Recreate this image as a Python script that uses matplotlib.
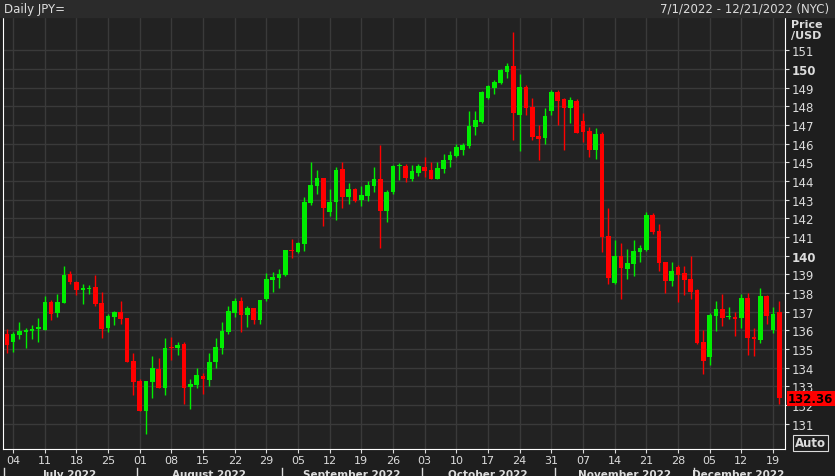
import numpy as np
import pandas as pd
import matplotlib
matplotlib.use('Agg')
import matplotlib.pyplot as plt

# daily USD/JPY candles, Jul 1 - Dec 20 2022
opens = [135.8, 135.4, 135.77, 135.93, 135.98, 136.07, 136.04, 137.5, 136.95, 137.48,
         139.02, 138.61, 138.18, 138.22, 138.32, 137.47, 136.13, 136.73, 136.98, 136.66,
         134.36, 133.29, 131.7, 133.25, 133.93, 132.93, 135.11, 135.06, 135.27, 132.98,
         133.1, 133.57, 133.36, 134.29, 135.08, 135.93, 136.95, 137.58, 136.84, 137.2,
         136.58, 137.66, 138.7, 138.83, 138.97, 140.31, 140.2, 140.63, 142.84, 143.75,
         144.15, 142.36, 142.86, 144.65, 143.15, 143.58, 142.99, 143.22, 143.75, 144.11,
         142.42, 143.43, 144.81, 144.81, 144.11, 144.43, 144.76, 144.59, 144.1, 144.64,
         145.12, 145.34, 145.66, 145.87, 146.91, 147.14, 148.44, 148.98, 149.25, 149.84,
         150.16, 147.53, 149.05, 147.96, 146.41, 146.3, 147.77, 148.78, 148.37, 147.89,
         148.3, 147.19, 146.7, 145.68, 146.52, 141.04, 138.53, 139.96, 139.3, 139.57,
         140.21, 140.3, 142.18, 141.32, 139.68, 138.64, 139.41, 139.07, 138.75, 138.18,
         135.39, 134.59, 136.78, 137.14, 136.71, 136.71, 136.66, 137.71, 135.64, 135.5,
         137.82, 136.0, 136.96]
closes = [135.24, 135.8, 135.98, 136.04, 136.09, 136.18, 137.5, 136.9, 137.5, 138.97,
          138.57, 138.18, 138.27, 138.27, 137.43, 136.09, 136.75, 136.98, 136.63, 134.31,
          133.25, 131.7, 133.29, 134.0, 132.93, 135.06, 135.06, 135.24, 132.93, 133.15,
          133.61, 133.4, 134.29, 135.09, 135.99, 137.04, 137.58, 136.84, 137.2, 136.58,
          137.63, 138.75, 138.88, 139.04, 140.31, 140.25, 140.68, 142.88, 143.79, 144.15,
          142.58, 142.88, 144.59, 143.15, 143.58, 142.95, 143.25, 143.79, 144.11, 142.42,
          143.43, 144.81, 144.84, 144.18, 144.52, 144.81, 144.55, 144.1, 144.68, 145.14,
          145.41, 145.8, 145.94, 146.96, 147.29, 148.78, 149.1, 149.32, 149.94, 150.16,
          147.64, 149.05, 147.91, 146.37, 146.25, 147.48, 148.78, 148.3, 147.91, 148.34,
          146.59, 146.64, 145.68, 146.52, 140.98, 138.82, 139.96, 139.36, 139.6, 140.23,
          140.39, 142.18, 141.25, 139.6, 138.64, 139.2, 138.96, 138.7, 138.07, 135.32,
          134.36, 136.82, 137.14, 136.68, 136.75, 136.62, 137.71, 135.59, 135.55, 137.82,
          136.75, 136.9, 132.36]
highs = [136.07, 135.9, 136.43, 136.11, 136.29, 136.66, 137.82, 137.63, 137.95, 139.47,
         139.18, 138.65, 138.48, 138.43, 138.97, 138.07, 136.86, 137.06, 137.59, 136.66,
         134.79, 133.4, 133.29, 134.65, 134.52, 135.59, 135.66, 135.36, 135.36, 133.4,
         134.0, 133.72, 134.79, 135.58, 136.47, 137.29, 137.74, 137.77, 137.33, 137.22,
         137.63, 139.08, 139.15, 139.29, 140.31, 140.9, 140.72, 143.13, 145.02, 144.59,
         144.15, 143.58, 144.74, 145.02, 143.9, 143.6, 143.74, 143.99, 144.75, 145.95,
         143.52, 144.86, 144.97, 144.9, 144.86, 144.9, 145.3, 145.03, 145.0, 145.44,
         145.62, 145.98, 146.06, 147.77, 147.77, 148.84, 149.14, 149.43, 150.0, 150.32,
         151.99, 149.73, 149.14, 148.43, 147.0, 147.89, 148.89, 148.86, 148.44, 148.48,
         148.4, 147.64, 146.87, 146.84, 146.61, 142.53, 140.85, 140.68, 140.36, 140.84,
         140.59, 142.32, 142.28, 141.7, 139.68, 139.68, 139.5, 139.46, 140.0, 138.22,
         136.03, 136.93, 137.57, 137.96, 137.28, 136.96, 137.96, 138.03, 136.11, 138.25,
         137.9, 137.23, 137.59]
lows = [134.8, 134.86, 135.54, 135.04, 135.54, 135.4, 136.0, 136.54, 136.73, 137.45,
        138.47, 137.91, 137.43, 137.97, 137.32, 135.59, 135.93, 136.29, 136.34, 134.31,
        132.56, 131.7, 130.48, 132.36, 132.9, 132.56, 134.43, 134.7, 132.07, 131.79,
        132.93, 132.61, 133.0, 133.97, 134.72, 135.79, 136.74, 135.9, 136.2, 136.34,
        136.36, 137.59, 138.08, 138.29, 138.93, 139.9, 140.13, 140.27, 142.74, 143.31,
        141.58, 142.11, 141.9, 142.58, 142.77, 142.86, 142.68, 142.95, 143.4, 140.4,
        141.79, 143.29, 144.08, 143.93, 144.02, 144.29, 144.2, 144.1, 144.1, 144.41,
        144.73, 145.27, 145.41, 145.75, 146.46, 147.1, 148.4, 148.66, 149.2, 149.52,
        146.19, 145.62, 147.55, 146.19, 145.12, 145.98, 147.53, 147.02, 145.66, 147.1,
        146.55, 146.07, 145.3, 145.18, 140.21, 138.5, 138.5, 137.68, 138.78, 138.93,
        139.68, 140.25, 141.16, 139.2, 138.03, 138.39, 137.5, 137.89, 137.68, 135.27,
        133.66, 134.14, 135.98, 136.25, 136.6, 135.68, 136.11, 134.71, 134.64, 135.3,
        136.34, 135.86, 132.05]
dates = pd.bdate_range('2022-07-01', periods=len(opens))

week_ticks = ['04', '11', '18', '25', '01', '08', '15', '22', '29', '05', '12', '19', '26',
              '03', '10', '17', '24', '31', '07', '14', '21', '28', '05', '12', '19']
months = ['July 2022', 'August 2022', 'September 2022', 'October 2022',
          'November 2022', 'December 2022']

BG = '#1e1e1e'
PANEL = '#222222'
GRID = '#3a3a3a'
TXT = '#dcdcdc'
UP = '#00ee00'
DN = '#ff0000'

fig = plt.figure(figsize=(8.35, 4.77), dpi=100, facecolor=BG)
ax = fig.add_axes([3 / 835, 27 / 477, 782 / 835, 431 / 477])
ax.set_facecolor(PANEL)

x = np.arange(len(opens))
o = np.array(opens); c = np.array(closes)
colors = [UP if cc >= oo else DN for oo, cc in zip(o, c)]
ax.vlines(x, lows, highs, colors=colors, lw=1, zorder=3)
bottoms = np.minimum(o, c)
heights = np.maximum(np.abs(c - o), 0.06)
ax.bar(x, heights, bottom=bottoms, width=0.72, color=colors, zorder=4)

ax.set_xlim(-0.6, 122.9)
ax.set_ylim(129.65, 152.73)

# weekly grid on Mondays
mondays = [i for i, d in enumerate(dates) if d.weekday() == 0]
ax.set_xticks(mondays)
ax.set_xticklabels(week_ticks[:len(mondays)], color=TXT, fontsize=8)
ax.set_yticks(range(131, 152))
ax.yaxis.tick_right()
ax.set_yticklabels([str(v) for v in range(131, 152)], color=TXT, fontsize=8.5)
for lbl in ax.get_yticklabels():
    if lbl.get_text() in ('140', '150'):
        lbl.set_fontweight('bold')
ax.tick_params(axis='both', colors=TXT, length=3, pad=2, labelcolor=TXT)
ax.tick_params(axis='x', pad=1.5)
ax.grid(True, color=GRID, lw=1)
ax.set_axisbelow(True)
for s in ['left', 'right', 'bottom']:
    ax.spines[s].set_color('white')
ax.spines['top'].set_visible(False)

# month labels and separators
tr = ax.get_xaxis_transform()
for m in range(7, 13):
    idx = [i for i, d in enumerate(dates) if d.month == m]
    start = idx[0]
    ax.plot([start - 0.5, start - 0.5], [-0.045, -0.07], transform=tr,
            color=TXT, lw=1, clip_on=False)
    mid = (idx[0] + idx[-1]) / 2
    ax.text(mid, -0.058, months[m - 7], transform=tr, ha='center',
            va='center', color=TXT, fontsize=7.5, fontweight='bold')

# last price tag
ax.text(1.004, closes[-1], f'{closes[-1]:.2f}', transform=ax.get_yaxis_transform(),
        ha='left', va='center', color='black', fontsize=8.5, fontweight='bold',
        bbox=dict(boxstyle='square,pad=0.1', fc=DN, ec='none'), zorder=6)

# header
fig.patches.append(plt.Rectangle((0, 459 / 477), 1, 18 / 477, transform=fig.transFigure,
                                 color='#2b2b2b', zorder=0))
fig.text(4 / 835, 468 / 477, 'Daily JPY=', color=TXT, fontsize=8.5, va='center')
fig.text(829 / 835, 468 / 477, '7/1/2022 - 12/21/2022 (NYC)', color=TXT, fontsize=8.5,
         va='center', ha='right')
fig.text(791 / 835, 457 / 477, 'Price\n/USD', color=TXT, fontsize=8, va='top',
         fontweight='bold', linespacing=1.15)
fig.text(795 / 835, 33 / 477, 'Auto', color=TXT, fontsize=8.5, va='center', fontweight='bold',
         bbox=dict(boxstyle='square,pad=0.15', fc=BG, ec=TXT, lw=0.8))

fig.savefig('out.png', dpi=100, facecolor=BG)
